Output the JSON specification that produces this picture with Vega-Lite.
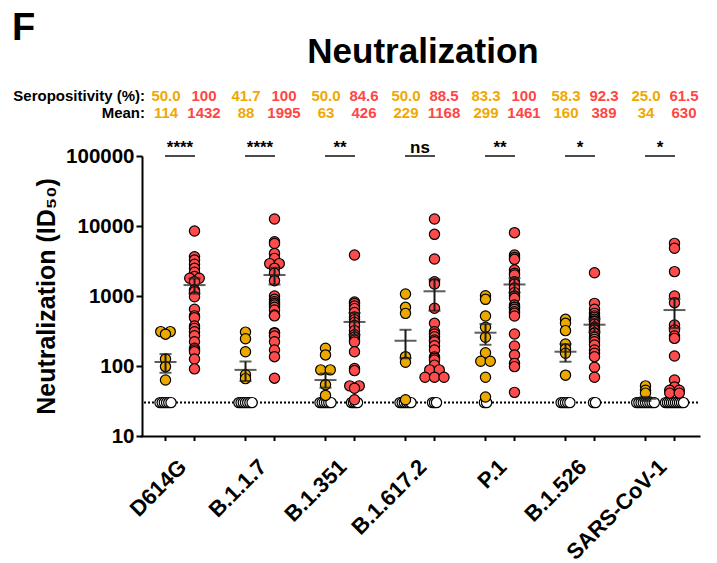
{
  "$schema": "https://vega.github.io/schema/vega-lite/v6.json",
  "width": 556,
  "height": 280,
  "autosize": {"type": "none"},
  "padding": {"left": 142, "top": 156, "right": 19, "bottom": 127},
  "background": "white",
  "config": {
    "font": "Liberation Sans",
    "view": {"stroke": null},
    "axisX": {"labelAngle": -45, "labelAlign": "right", "labelBaseline": "middle", "labelFontSize": 22, "labelFontWeight": "bold", "labelColor": "black", "labelPadding": 27, "labelOffset": 3, "ticks": false, "domainColor": "black", "domainWidth": 2, "grid": false, "labelFont": "Liberation Sans", "labelLimit": 300},
    "axisY": {"labelFontSize": 20.5, "labelFontWeight": "bold", "labelColor": "black", "labelPadding": 2, "tickSize": 6, "tickWidth": 2, "tickColor": "black", "domainColor": "black", "domainWidth": 2, "grid": false, "titleFontSize": 25, "titleFontWeight": "bold", "titleColor": "black", "titlePadding": 6, "labelFont": "Liberation Sans", "titleFont": "Liberation Sans"}
  },
  "datasets": {
    "points": [
      {"v":"D614G","g":"A","id50":310,"pos":true},{"v":"D614G","g":"A","id50":310,"pos":true},{"v":"D614G","g":"A","id50":285,"pos":true},{"v":"D614G","g":"A","id50":126,"pos":true},{"v":"D614G","g":"A","id50":98,"pos":true},{"v":"D614G","g":"A","id50":63,"pos":true},
      {"v":"D614G","g":"A","id50":30,"pos":false},{"v":"D614G","g":"A","id50":30,"pos":false},{"v":"D614G","g":"A","id50":30,"pos":false},{"v":"D614G","g":"A","id50":30,"pos":false},{"v":"D614G","g":"A","id50":30,"pos":false},{"v":"D614G","g":"A","id50":30,"pos":false},
      {"v":"D614G","g":"B","id50":8490,"pos":true},{"v":"D614G","g":"B","id50":3640,"pos":true},{"v":"D614G","g":"B","id50":3270,"pos":true},{"v":"D614G","g":"B","id50":2840,"pos":true},{"v":"D614G","g":"B","id50":2485,"pos":true},{"v":"D614G","g":"B","id50":2180,"pos":true},{"v":"D614G","g":"B","id50":1900,"pos":true},{"v":"D614G","g":"B","id50":1790,"pos":true},{"v":"D614G","g":"B","id50":1790,"pos":true},{"v":"D614G","g":"B","id50":1600,"pos":true},{"v":"D614G","g":"B","id50":1218,"pos":true},{"v":"D614G","g":"B","id50":1150,"pos":true},{"v":"D614G","g":"B","id50":977,"pos":true},
      {"v":"D614G","g":"B","id50":646,"pos":true},{"v":"D614G","g":"B","id50":520,"pos":true},{"v":"D614G","g":"B","id50":490,"pos":true},{"v":"D614G","g":"B","id50":373,"pos":true},{"v":"D614G","g":"B","id50":345,"pos":true},{"v":"D614G","g":"B","id50":309,"pos":true},{"v":"D614G","g":"B","id50":271,"pos":true},{"v":"D614G","g":"B","id50":222,"pos":true},{"v":"D614G","g":"B","id50":179,"pos":true},{"v":"D614G","g":"B","id50":169,"pos":true},{"v":"D614G","g":"B","id50":160,"pos":true},{"v":"D614G","g":"B","id50":126,"pos":true},{"v":"D614G","g":"B","id50":91,"pos":true},
      {"v":"B.1.1.7","g":"A","id50":305,"pos":true},{"v":"B.1.1.7","g":"A","id50":245,"pos":true},{"v":"B.1.1.7","g":"A","id50":160,"pos":true},{"v":"B.1.1.7","g":"A","id50":75,"pos":true},{"v":"B.1.1.7","g":"A","id50":66,"pos":true},
      {"v":"B.1.1.7","g":"A","id50":30,"pos":false},{"v":"B.1.1.7","g":"A","id50":30,"pos":false},{"v":"B.1.1.7","g":"A","id50":30,"pos":false},{"v":"B.1.1.7","g":"A","id50":30,"pos":false},{"v":"B.1.1.7","g":"A","id50":30,"pos":false},{"v":"B.1.1.7","g":"A","id50":30,"pos":false},{"v":"B.1.1.7","g":"A","id50":30,"pos":false},
      {"v":"B.1.1.7","g":"B","id50":12600,"pos":true},{"v":"B.1.1.7","g":"B","id50":5970,"pos":true},{"v":"B.1.1.7","g":"B","id50":5630,"pos":true},{"v":"B.1.1.7","g":"B","id50":4060,"pos":true},{"v":"B.1.1.7","g":"B","id50":3450,"pos":true},{"v":"B.1.1.7","g":"B","id50":2900,"pos":true},{"v":"B.1.1.7","g":"B","id50":2900,"pos":true},{"v":"B.1.1.7","g":"B","id50":2485,"pos":true},{"v":"B.1.1.7","g":"B","id50":2110,"pos":true},{"v":"B.1.1.7","g":"B","id50":1656,"pos":true},{"v":"B.1.1.7","g":"B","id50":1000,"pos":true},{"v":"B.1.1.7","g":"B","id50":896,"pos":true},{"v":"B.1.1.7","g":"B","id50":829,"pos":true},
      {"v":"B.1.1.7","g":"B","id50":780,"pos":true},{"v":"B.1.1.7","g":"B","id50":743,"pos":true},{"v":"B.1.1.7","g":"B","id50":689,"pos":true},{"v":"B.1.1.7","g":"B","id50":631,"pos":true},{"v":"B.1.1.7","g":"B","id50":535,"pos":true},{"v":"B.1.1.7","g":"B","id50":520,"pos":true},{"v":"B.1.1.7","g":"B","id50":300,"pos":true},{"v":"B.1.1.7","g":"B","id50":293,"pos":true},{"v":"B.1.1.7","g":"B","id50":268,"pos":true},{"v":"B.1.1.7","g":"B","id50":222,"pos":true},{"v":"B.1.1.7","g":"B","id50":169,"pos":true},{"v":"B.1.1.7","g":"B","id50":136,"pos":true},{"v":"B.1.1.7","g":"B","id50":67,"pos":true},
      {"v":"B.1.351","g":"A","id50":179,"pos":true},{"v":"B.1.351","g":"A","id50":144,"pos":true},{"v":"B.1.351","g":"A","id50":88,"pos":true},{"v":"B.1.351","g":"A","id50":88,"pos":true},{"v":"B.1.351","g":"A","id50":54,"pos":true},{"v":"B.1.351","g":"A","id50":38,"pos":true},
      {"v":"B.1.351","g":"A","id50":30,"pos":false},{"v":"B.1.351","g":"A","id50":30,"pos":false},{"v":"B.1.351","g":"A","id50":30,"pos":false},{"v":"B.1.351","g":"A","id50":30,"pos":false},{"v":"B.1.351","g":"A","id50":30,"pos":false},{"v":"B.1.351","g":"A","id50":30,"pos":false},
      {"v":"B.1.351","g":"B","id50":3850,"pos":true},{"v":"B.1.351","g":"B","id50":820,"pos":true},{"v":"B.1.351","g":"B","id50":780,"pos":true},{"v":"B.1.351","g":"B","id50":720,"pos":true},{"v":"B.1.351","g":"B","id50":660,"pos":true},{"v":"B.1.351","g":"B","id50":580,"pos":true},{"v":"B.1.351","g":"B","id50":500,"pos":true},{"v":"B.1.351","g":"B","id50":460,"pos":true},{"v":"B.1.351","g":"B","id50":420,"pos":true},{"v":"B.1.351","g":"B","id50":380,"pos":true},{"v":"B.1.351","g":"B","id50":320,"pos":true},
      {"v":"B.1.351","g":"B","id50":280,"pos":true},{"v":"B.1.351","g":"B","id50":260,"pos":true},{"v":"B.1.351","g":"B","id50":235,"pos":true},{"v":"B.1.351","g":"B","id50":220,"pos":true},{"v":"B.1.351","g":"B","id50":160,"pos":true},{"v":"B.1.351","g":"B","id50":92,"pos":true},{"v":"B.1.351","g":"B","id50":86,"pos":true},{"v":"B.1.351","g":"B","id50":52,"pos":true},{"v":"B.1.351","g":"B","id50":52,"pos":true},{"v":"B.1.351","g":"B","id50":48,"pos":true},{"v":"B.1.351","g":"B","id50":33,"pos":true},
      {"v":"B.1.351","g":"B","id50":30,"pos":false},{"v":"B.1.351","g":"B","id50":30,"pos":false},{"v":"B.1.351","g":"B","id50":30,"pos":false},{"v":"B.1.351","g":"B","id50":30,"pos":false},
      {"v":"B.1.617.2","g":"A","id50":1068,"pos":true},{"v":"B.1.617.2","g":"A","id50":689,"pos":true},{"v":"B.1.617.2","g":"A","id50":565,"pos":true},{"v":"B.1.617.2","g":"A","id50":136,"pos":true},{"v":"B.1.617.2","g":"A","id50":113,"pos":true},{"v":"B.1.617.2","g":"A","id50":33,"pos":true},
      {"v":"B.1.617.2","g":"A","id50":30,"pos":false},{"v":"B.1.617.2","g":"A","id50":30,"pos":false},{"v":"B.1.617.2","g":"A","id50":30,"pos":false},{"v":"B.1.617.2","g":"A","id50":30,"pos":false},{"v":"B.1.617.2","g":"A","id50":30,"pos":false},{"v":"B.1.617.2","g":"A","id50":30,"pos":false},
      {"v":"B.1.617.2","g":"B","id50":12590,"pos":true},{"v":"B.1.617.2","g":"B","id50":7600,"pos":true},{"v":"B.1.617.2","g":"B","id50":3380,"pos":true},{"v":"B.1.617.2","g":"B","id50":1600,"pos":true},{"v":"B.1.617.2","g":"B","id50":1484,"pos":true},{"v":"B.1.617.2","g":"B","id50":667,"pos":true},{"v":"B.1.617.2","g":"B","id50":407,"pos":true},{"v":"B.1.617.2","g":"B","id50":309,"pos":true},{"v":"B.1.617.2","g":"B","id50":287,"pos":true},{"v":"B.1.617.2","g":"B","id50":262,"pos":true},{"v":"B.1.617.2","g":"B","id50":235,"pos":true},{"v":"B.1.617.2","g":"B","id50":222,"pos":true},
      {"v":"B.1.617.2","g":"B","id50":195,"pos":true},{"v":"B.1.617.2","g":"B","id50":169,"pos":true},{"v":"B.1.617.2","g":"B","id50":135,"pos":true},{"v":"B.1.617.2","g":"B","id50":129,"pos":true},{"v":"B.1.617.2","g":"B","id50":122,"pos":true},{"v":"B.1.617.2","g":"B","id50":103,"pos":true},{"v":"B.1.617.2","g":"B","id50":88,"pos":true},{"v":"B.1.617.2","g":"B","id50":88,"pos":true},{"v":"B.1.617.2","g":"B","id50":69,"pos":true},{"v":"B.1.617.2","g":"B","id50":69,"pos":true},{"v":"B.1.617.2","g":"B","id50":69,"pos":true},
      {"v":"B.1.617.2","g":"B","id50":30,"pos":false},{"v":"B.1.617.2","g":"B","id50":30,"pos":false},{"v":"B.1.617.2","g":"B","id50":30,"pos":false},
      {"v":"P.1","g":"A","id50":1010,"pos":true},{"v":"P.1","g":"A","id50":896,"pos":true},{"v":"P.1","g":"A","id50":518,"pos":true},{"v":"P.1","g":"A","id50":357,"pos":true},{"v":"P.1","g":"A","id50":257,"pos":true},{"v":"P.1","g":"A","id50":155,"pos":true},{"v":"P.1","g":"A","id50":117,"pos":true},{"v":"P.1","g":"A","id50":117,"pos":true},{"v":"P.1","g":"A","id50":69,"pos":true},{"v":"P.1","g":"A","id50":36,"pos":true},
      {"v":"P.1","g":"A","id50":30,"pos":false},{"v":"P.1","g":"A","id50":30,"pos":false},
      {"v":"P.1","g":"B","id50":8030,"pos":true},{"v":"P.1","g":"B","id50":3850,"pos":true},{"v":"P.1","g":"B","id50":3560,"pos":true},{"v":"P.1","g":"B","id50":3340,"pos":true},{"v":"P.1","g":"B","id50":2350,"pos":true},{"v":"P.1","g":"B","id50":2110,"pos":true},{"v":"P.1","g":"B","id50":2000,"pos":true},{"v":"P.1","g":"B","id50":1600,"pos":true},{"v":"P.1","g":"B","id50":1484,"pos":true},{"v":"P.1","g":"B","id50":1300,"pos":true},{"v":"P.1","g":"B","id50":1117,"pos":true},{"v":"P.1","g":"B","id50":1000,"pos":true},{"v":"P.1","g":"B","id50":926,"pos":true},
      {"v":"P.1","g":"B","id50":743,"pos":true},{"v":"P.1","g":"B","id50":690,"pos":true},{"v":"P.1","g":"B","id50":689,"pos":true},{"v":"P.1","g":"B","id50":646,"pos":true},{"v":"P.1","g":"B","id50":597,"pos":true},{"v":"P.1","g":"B","id50":565,"pos":true},{"v":"P.1","g":"B","id50":518,"pos":true},{"v":"P.1","g":"B","id50":287,"pos":true},{"v":"P.1","g":"B","id50":193,"pos":true},{"v":"P.1","g":"B","id50":144,"pos":true},{"v":"P.1","g":"B","id50":109,"pos":true},{"v":"P.1","g":"B","id50":98,"pos":true},{"v":"P.1","g":"B","id50":42,"pos":true},
      {"v":"B.1.526","g":"A","id50":464,"pos":true},{"v":"B.1.526","g":"A","id50":407,"pos":true},{"v":"B.1.526","g":"A","id50":320,"pos":true},{"v":"B.1.526","g":"A","id50":206,"pos":true},{"v":"B.1.526","g":"A","id50":175,"pos":true},{"v":"B.1.526","g":"A","id50":152,"pos":true},{"v":"B.1.526","g":"A","id50":74,"pos":true},
      {"v":"B.1.526","g":"A","id50":30,"pos":false},{"v":"B.1.526","g":"A","id50":30,"pos":false},{"v":"B.1.526","g":"A","id50":30,"pos":false},{"v":"B.1.526","g":"A","id50":30,"pos":false},{"v":"B.1.526","g":"A","id50":30,"pos":false},
      {"v":"B.1.526","g":"B","id50":2150,"pos":true},{"v":"B.1.526","g":"B","id50":785,"pos":true},{"v":"B.1.526","g":"B","id50":646,"pos":true},{"v":"B.1.526","g":"B","id50":565,"pos":true},{"v":"B.1.526","g":"B","id50":520,"pos":true},{"v":"B.1.526","g":"B","id50":495,"pos":true},{"v":"B.1.526","g":"B","id50":464,"pos":true},{"v":"B.1.526","g":"B","id50":440,"pos":true},{"v":"B.1.526","g":"B","id50":430,"pos":true},{"v":"B.1.526","g":"B","id50":394,"pos":true},{"v":"B.1.526","g":"B","id50":360,"pos":true},{"v":"B.1.526","g":"B","id50":345,"pos":true},
      {"v":"B.1.526","g":"B","id50":327,"pos":true},{"v":"B.1.526","g":"B","id50":300,"pos":true},{"v":"B.1.526","g":"B","id50":293,"pos":true},{"v":"B.1.526","g":"B","id50":257,"pos":true},{"v":"B.1.526","g":"B","id50":240,"pos":true},{"v":"B.1.526","g":"B","id50":222,"pos":true},{"v":"B.1.526","g":"B","id50":200,"pos":true},{"v":"B.1.526","g":"B","id50":169,"pos":true},{"v":"B.1.526","g":"B","id50":152,"pos":true},{"v":"B.1.526","g":"B","id50":136,"pos":true},{"v":"B.1.526","g":"B","id50":96,"pos":true},{"v":"B.1.526","g":"B","id50":69,"pos":true},
      {"v":"B.1.526","g":"B","id50":30,"pos":false},{"v":"B.1.526","g":"B","id50":30,"pos":false},
      {"v":"SARS-CoV-1","g":"A","id50":52,"pos":true},{"v":"SARS-CoV-1","g":"A","id50":45,"pos":true},{"v":"SARS-CoV-1","g":"A","id50":41,"pos":true},
      {"v":"SARS-CoV-1","g":"A","id50":30,"pos":false},{"v":"SARS-CoV-1","g":"A","id50":30,"pos":false},{"v":"SARS-CoV-1","g":"A","id50":30,"pos":false},{"v":"SARS-CoV-1","g":"A","id50":30,"pos":false},{"v":"SARS-CoV-1","g":"A","id50":30,"pos":false},{"v":"SARS-CoV-1","g":"A","id50":30,"pos":false},{"v":"SARS-CoV-1","g":"A","id50":30,"pos":false},{"v":"SARS-CoV-1","g":"A","id50":30,"pos":false},{"v":"SARS-CoV-1","g":"A","id50":30,"pos":false},
      {"v":"SARS-CoV-1","g":"B","id50":5650,"pos":true},{"v":"SARS-CoV-1","g":"B","id50":4800,"pos":true},{"v":"SARS-CoV-1","g":"B","id50":2230,"pos":true},{"v":"SARS-CoV-1","g":"B","id50":1000,"pos":true},{"v":"SARS-CoV-1","g":"B","id50":803,"pos":true},{"v":"SARS-CoV-1","g":"B","id50":385,"pos":true},{"v":"SARS-CoV-1","g":"B","id50":327,"pos":true},{"v":"SARS-CoV-1","g":"B","id50":268,"pos":true},{"v":"SARS-CoV-1","g":"B","id50":248,"pos":true},{"v":"SARS-CoV-1","g":"B","id50":139,"pos":true},{"v":"SARS-CoV-1","g":"B","id50":63,"pos":true},{"v":"SARS-CoV-1","g":"B","id50":50,"pos":true},{"v":"SARS-CoV-1","g":"B","id50":45,"pos":true},{"v":"SARS-CoV-1","g":"B","id50":45,"pos":true},{"v":"SARS-CoV-1","g":"B","id50":41,"pos":true},{"v":"SARS-CoV-1","g":"B","id50":41,"pos":true},
      {"v":"SARS-CoV-1","g":"B","id50":30,"pos":false},{"v":"SARS-CoV-1","g":"B","id50":30,"pos":false},{"v":"SARS-CoV-1","g":"B","id50":30,"pos":false},{"v":"SARS-CoV-1","g":"B","id50":30,"pos":false},{"v":"SARS-CoV-1","g":"B","id50":30,"pos":false},{"v":"SARS-CoV-1","g":"B","id50":30,"pos":false},{"v":"SARS-CoV-1","g":"B","id50":30,"pos":false},{"v":"SARS-CoV-1","g":"B","id50":30,"pos":false},{"v":"SARS-CoV-1","g":"B","id50":30,"pos":false},{"v":"SARS-CoV-1","g":"B","id50":30,"pos":false}
    ],
    "summary": [
      {"v":"D614G","g":"A","sero":50.0,"mean":114,"lo":80,"hi":148},
      {"v":"D614G","g":"B","sero":100,"mean":1432,"lo":1082,"hi":1782},
      {"v":"B.1.1.7","g":"A","sero":41.7,"mean":88,"lo":61,"hi":116},
      {"v":"B.1.1.7","g":"B","sero":100,"mean":1995,"lo":1459,"hi":2531},
      {"v":"B.1.351","g":"A","sero":50.0,"mean":63,"lo":49,"hi":78},
      {"v":"B.1.351","g":"B","sero":84.6,"mean":426,"lo":280,"hi":572},
      {"v":"B.1.617.2","g":"A","sero":50.0,"mean":229,"lo":129,"hi":329},
      {"v":"B.1.617.2","g":"B","sero":88.5,"mean":1168,"lo":616,"hi":1720},
      {"v":"P.1","g":"A","sero":83.3,"mean":299,"lo":201,"hi":397},
      {"v":"P.1","g":"B","sero":100,"mean":1461,"lo":1123,"hi":1799},
      {"v":"B.1.526","g":"A","sero":58.3,"mean":160,"lo":115,"hi":205},
      {"v":"B.1.526","g":"B","sero":92.3,"mean":389,"lo":309,"hi":469},
      {"v":"SARS-CoV-1","g":"A","sero":25.0,"mean":34,"lo":31.8,"hi":36.2},
      {"v":"SARS-CoV-1","g":"B","sero":61.5,"mean":630,"lo":348,"hi":912}
    ],
    "sig": [
      {"v":"D614G","sig":"****"},{"v":"B.1.1.7","sig":"****"},{"v":"B.1.351","sig":"**"},{"v":"B.1.617.2","sig":"ns"},{"v":"P.1","sig":"**"},{"v":"B.1.526","sig":"*"},{"v":"SARS-CoV-1","sig":"*"}
    ]
  },
  "resolve": {"scale": {"xOffset": "independent"}},
  "layer": [
    {
      "data": {"values": [{}]},
      "mark": {"type": "rule", "strokeDash": [2, 2], "strokeWidth": 2, "color": "black"},
      "encoding": {
        "y": {"datum": 30, "type": "quantitative", "scale": {"type": "log", "domain": [10, 100000], "nice": false}, "axis": {"title": "Neutralization (ID₅₀)", "values": [10, 100, 1000, 10000, 100000], "format": "d"}}
      }
    },
    {
      "data": {"name": "summary"},
      "mark": {"type": "rule", "strokeWidth": 2, "color": "black"},
      "encoding": {
        "x": {"field": "v", "type": "nominal", "title": null, "scale": {"domain": ["D614G","B.1.1.7","B.1.351","B.1.617.2","P.1","B.1.526","SARS-CoV-1"], "range": [-2, 558], "paddingInner": 0, "paddingOuter": 0}},
        "xOffset": {"field": "g", "type": "nominal", "scale": {"paddingInner": 0, "paddingOuter": 0.3793}},
        "y": {"datum": 10, "type": "quantitative"},
        "y2": {"datum": 8.49}
      }
    },
    {
      "data": {"name": "sig"},
      "mark": {"type": "tick", "orient": "horizontal", "size": 30, "thickness": 2, "color": "black"},
      "encoding": {
        "x": {"field": "v", "type": "nominal", "title": null},
        "y": {"datum": 100000, "type": "quantitative"}
      }
    },
    {
      "data": {"name": "sig"},
      "mark": {"type": "text", "fontSize": 17, "fontWeight": "bold", "color": "black", "baseline": "alphabetic", "align": "center"},
      "encoding": {
        "x": {"field": "v", "type": "nominal", "title": null},
        "y": {"datum": 110400, "type": "quantitative"},
        "text": {"field": "sig"}
      }
    },
    {
      "data": {"name": "points"},
      "transform": [
        {"filter": "datum.g == 'A' && !datum.pos"},
        {"window": [{"op": "count", "as": "one"}], "frame": [0, 0]},
        {"stack": "one", "groupby": ["v", "id50"], "offset": "center", "as": ["s0", "s1"]}
      ],
      "mark": {"type": "circle", "size": 105, "opacity": 1, "fill": "white", "stroke": "black", "strokeWidth": 1.2},
      "encoding": {
        "x": {"field": "v", "type": "nominal", "title": null},
        "xOffset": {"field": "s0", "type": "quantitative", "scale": {"domain": [4, 5], "range": [25.5, 27.7], "zero": false, "nice": false}},
        "y": {"field": "id50", "type": "quantitative", "title": "Neutralization (ID₅₀)"}
      }
    },
    {
      "data": {"name": "points"},
      "transform": [
        {"filter": "datum.g == 'B' && !datum.pos"},
        {"window": [{"op": "count", "as": "one"}], "frame": [0, 0]},
        {"stack": "one", "groupby": ["v", "id50"], "offset": "center", "as": ["s0", "s1"]}
      ],
      "mark": {"type": "circle", "size": 105, "opacity": 1, "fill": "white", "stroke": "black", "strokeWidth": 1.2},
      "encoding": {
        "x": {"field": "v", "type": "nominal", "title": null},
        "xOffset": {"field": "s0", "type": "quantitative", "scale": {"domain": [4.5, 5.5], "range": [54.5, 56.5], "zero": false, "nice": false}},
        "y": {"field": "id50", "type": "quantitative", "title": "Neutralization (ID₅₀)"}
      }
    },
    {
      "data": {"name": "points"},
      "transform": [
        {"filter": "datum.g == 'A' && datum.pos"},
        {"window": [{"op": "count", "as": "one"}], "frame": [0, 0]},
        {"stack": "one", "groupby": ["v", "id50"], "offset": "center", "as": ["s0", "s1"]}
      ],
      "mark": {"type": "circle", "size": 105, "opacity": 1, "fill": "#EBA900", "stroke": "black", "strokeWidth": 1.2},
      "encoding": {
        "x": {"field": "v", "type": "nominal", "title": null},
        "xOffset": {"field": "s0", "type": "quantitative", "scale": {"domain": [0.5, 1.5], "range": [25.5, 35], "zero": false, "nice": false}},
        "y": {"field": "id50", "type": "quantitative", "title": "Neutralization (ID₅₀)"}
      }
    },
    {
      "data": {"name": "points"},
      "transform": [
        {"filter": "datum.g == 'B' && datum.pos"},
        {"window": [{"op": "count", "as": "one"}], "frame": [0, 0]},
        {"stack": "one", "groupby": ["v", "id50"], "offset": "center", "as": ["s0", "s1"]}
      ],
      "mark": {"type": "circle", "size": 105, "opacity": 1, "fill": "#FF4B4B", "stroke": "black", "strokeWidth": 1.2},
      "encoding": {
        "x": {"field": "v", "type": "nominal", "title": null},
        "xOffset": {"field": "s0", "type": "quantitative", "scale": {"domain": [1, 2], "range": [54.5, 64], "zero": false, "nice": false}},
        "y": {"field": "id50", "type": "quantitative", "title": "Neutralization (ID₅₀)"}
      }
    },
    {
      "data": {"name": "summary"},
      "mark": {"type": "rule", "strokeWidth": 2, "color": "#1a1a1a"},
      "encoding": {
        "x": {"field": "v", "type": "nominal", "title": null},
        "xOffset": {"field": "g", "type": "nominal", "scale": {"paddingInner": 0, "paddingOuter": 0.3793}},
        "y": {"field": "lo", "type": "quantitative", "title": "Neutralization (ID₅₀)"},
        "y2": {"field": "hi"}
      }
    },
    {
      "data": {"name": "summary"},
      "mark": {"type": "tick", "orient": "horizontal", "size": 12, "thickness": 2, "color": "#1a1a1a"},
      "encoding": {
        "x": {"field": "v", "type": "nominal", "title": null},
        "xOffset": {"field": "g", "type": "nominal", "scale": {"paddingInner": 0, "paddingOuter": 0.3793}},
        "y": {"field": "lo", "type": "quantitative", "title": "Neutralization (ID₅₀)"}
      }
    },
    {
      "data": {"name": "summary"},
      "mark": {"type": "tick", "orient": "horizontal", "size": 12, "thickness": 2, "color": "#1a1a1a"},
      "encoding": {
        "x": {"field": "v", "type": "nominal", "title": null},
        "xOffset": {"field": "g", "type": "nominal", "scale": {"paddingInner": 0, "paddingOuter": 0.3793}},
        "y": {"field": "hi", "type": "quantitative", "title": "Neutralization (ID₅₀)"}
      }
    },
    {
      "data": {"name": "summary"},
      "mark": {"type": "tick", "orient": "horizontal", "size": 22, "thickness": 2, "color": "#1a1a1a"},
      "encoding": {
        "x": {"field": "v", "type": "nominal", "title": null},
        "xOffset": {"field": "g", "type": "nominal", "scale": {"paddingInner": 0, "paddingOuter": 0.3793}},
        "y": {"field": "mean", "type": "quantitative", "title": "Neutralization (ID₅₀)"}
      }
    },
    {
      "data": {"name": "summary"},
      "transform": [{"filter": "datum.g == 'A'"}],
      "mark": {"type": "text", "fontSize": 15, "fontWeight": "bold", "color": "#F0A800", "baseline": "middle", "align": "center", "dx": -14},
      "encoding": {
        "x": {"field": "v", "type": "nominal", "title": null},
        "y": {"datum": 719700, "type": "quantitative"},
        "text": {"field": "sero", "type": "quantitative", "format": ".3g"}
      }
    },
    {
      "data": {"name": "summary"},
      "transform": [{"filter": "datum.g == 'B'"}],
      "mark": {"type": "text", "fontSize": 15, "fontWeight": "bold", "color": "#FF4545", "baseline": "middle", "align": "center", "dx": 24},
      "encoding": {
        "x": {"field": "v", "type": "nominal", "title": null},
        "y": {"datum": 719700, "type": "quantitative"},
        "text": {"field": "sero", "type": "quantitative", "format": ".3g"}
      }
    },
    {
      "data": {"name": "summary"},
      "transform": [{"filter": "datum.g == 'A'"}],
      "mark": {"type": "text", "fontSize": 15, "fontWeight": "bold", "color": "#F0A800", "baseline": "middle", "align": "center", "dx": -14},
      "encoding": {
        "x": {"field": "v", "type": "nominal", "title": null},
        "y": {"datum": 411000, "type": "quantitative"},
        "text": {"field": "mean", "type": "quantitative", "format": "d"}
      }
    },
    {
      "data": {"name": "summary"},
      "transform": [{"filter": "datum.g == 'B'"}],
      "mark": {"type": "text", "fontSize": 15, "fontWeight": "bold", "color": "#FF4545", "baseline": "middle", "align": "center", "dx": 24},
      "encoding": {
        "x": {"field": "v", "type": "nominal", "title": null},
        "y": {"datum": 411000, "type": "quantitative"},
        "text": {"field": "mean", "type": "quantitative", "format": "d"}
      }
    },
    {
      "data": {"values": [{"label": "Seropositivity (%):"}]},
      "mark": {"type": "text", "fontSize": 15, "fontWeight": "bold", "color": "black", "baseline": "middle", "align": "right", "dx": -35},
      "encoding": {
        "x": {"datum": "D614G", "type": "nominal"},
        "y": {"datum": 719700, "type": "quantitative"},
        "text": {"field": "label"}
      }
    },
    {
      "data": {"values": [{"label": "Mean:"}]},
      "mark": {"type": "text", "fontSize": 15, "fontWeight": "bold", "color": "black", "baseline": "middle", "align": "right", "dx": -35},
      "encoding": {
        "x": {"datum": "D614G", "type": "nominal"},
        "y": {"datum": 411000, "type": "quantitative"},
        "text": {"field": "label"}
      }
    },
    {
      "data": {"values": [{"label": "Neutralization"}]},
      "mark": {"type": "text", "fontSize": 35, "fontWeight": "bold", "color": "black", "baseline": "middle", "align": "center", "dx": 3},
      "encoding": {
        "x": {"datum": "B.1.617.2", "type": "nominal"},
        "y": {"datum": 3060000, "type": "quantitative"},
        "text": {"field": "label"}
      }
    },
    {
      "data": {"values": [{"label": "F"}]},
      "mark": {"type": "text", "fontSize": 38, "fontWeight": "bold", "color": "black", "baseline": "middle", "align": "left", "dx": -168},
      "encoding": {
        "x": {"datum": "D614G", "type": "nominal"},
        "y": {"datum": 6520000, "type": "quantitative"},
        "text": {"field": "label"}
      }
    }
  ]
}
